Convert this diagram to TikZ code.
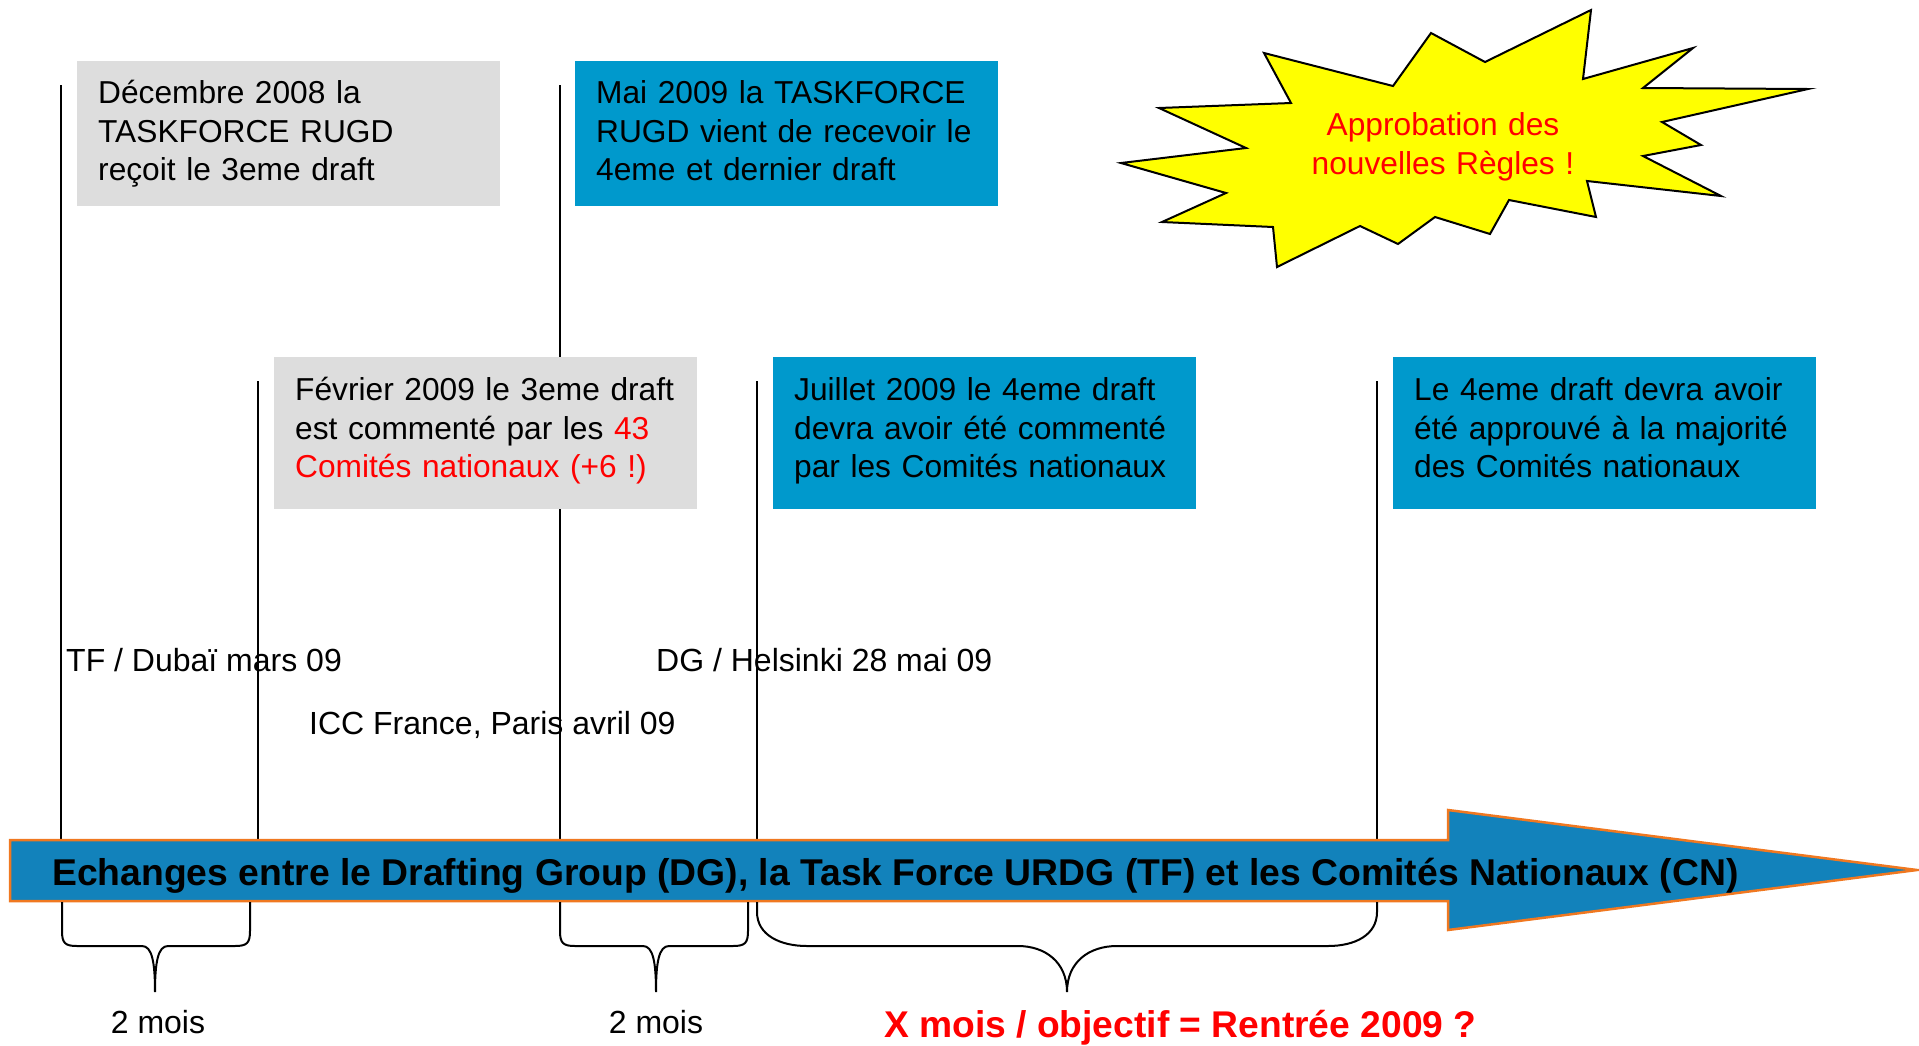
\documentclass[tikz,border=0pt]{standalone}
\usepackage{fontspec}
\setmainfont{Liberation Sans}
\definecolor{boxgray}{RGB}{221,221,221}
\definecolor{boxblue}{RGB}{0,153,204}
\definecolor{arrowblue}{RGB}{18,130,187}
\definecolor{arroworange}{RGB}{240,120,32}
\definecolor{starred}{RGB}{255,0,0}
\definecolor{staryellow}{RGB}{255,255,0}
\begin{document}
\begin{tikzpicture}[x=1pt,y=-1pt,
  upbox/.style={anchor=north west, inner sep=0pt, minimum width=423pt, minimum height=145pt},
  lowbox/.style={anchor=north west, inner sep=0pt, minimum width=423pt, minimum height=152pt},
  btext/.style={anchor=north west, inner sep=0pt, text width=410pt, align=left,
    text height=23pt, font=\fontsize{31.7}{38.8}\selectfont, text=black},
  vline/.style={draw=black, line width=1.6pt},
  brace/.style={draw=black, line width=2pt},
  lbl/.style={anchor=base west, inner sep=0pt, font=\fontsize{32}{38}\selectfont},
]
\useasboundingbox (0,0) rectangle (1919,1045);

% vertical timeline markers
\coordinate (t1) at (61,85);   \coordinate (b1) at (61,842);
\coordinate (t2) at (258,381); \coordinate (b2) at (258,842);
\coordinate (t3) at (560,85);  \coordinate (b3) at (560,842);
\coordinate (t4) at (757,381); \coordinate (b4) at (757,842);
\coordinate (t5) at (1377,381);\coordinate (b5) at (1377,842);
\foreach \i in {1,...,5} {\draw[vline] (t\i) -- (b\i);}

% boxes
\node[upbox, fill=boxgray] (dec) at (77,61) {};
\node[btext] (dect) at (98,80) {Décembre 2008 la\\TASKFORCE RUGD\\reçoit le 3eme draft};
\node[upbox, fill=boxblue] (mai) at (575,61) {};
\node[btext] (mait) at (596,80) {Mai 2009 la TASKFORCE\\RUGD vient de recevoir le\\4eme et dernier draft};
\node[lowbox, fill=boxgray] (fev) at (274,357) {};
\node[btext] (fevt) at (295,377) {Février 2009 le 3eme draft\\est commenté par les \textcolor{starred}{43}\\\textcolor{starred}{Comités nationaux (+6 !)}};
\node[lowbox, fill=boxblue] (jui) at (773,357) {};
\node[btext] (juit) at (794,377) {Juillet 2009 le 4eme draft\\devra avoir été commenté\\par les Comités nationaux};
\node[lowbox, fill=boxblue] (maj) at (1393,357) {};
\node[btext] (majt) at (1414,377) {Le 4eme draft devra avoir\\été approuvé à la majorité\\des Comités nationaux};

% starburst
\draw[fill=staryellow, draw=black, line width=2pt, line join=miter]
  (1591,10) -- (1583,79) -- (1693,48) -- (1643,88) -- (1808,89) -- (1662,122)
  -- (1701,145) -- (1643,156) -- (1721,196) -- (1587,181) -- (1596,217)
  -- (1509,200) -- (1490,234) -- (1435,217) -- (1398,244) -- (1360,226)
  -- (1277,267) -- (1273,227) -- (1162,222) -- (1226,193) -- (1121,163)
  -- (1246,148) -- (1159,108) -- (1291,103) -- (1264,53) -- (1393,86)
  -- (1431,33) -- (1485,62) -- cycle;
\node[anchor=base, inner sep=0pt, text width=320pt, align=center, text=starred,
  font=\fontsize{31.7}{39}\selectfont] (appr) at (1443,135) {Approbation des\\nouvelles Règles !};

% event labels
\node[lbl] (dubai) at (66,671) {TF / Dubaï mars 09};
\node[lbl] (hels) at (656,671) {DG / Helsinki 28 mai 09};
\node[lbl] (icc) at (309,734) {ICC France, Paris avril 09};

% main arrow
\draw[fill=arrowblue, draw=arroworange, line width=2.5pt, line join=miter]
  (10,840) -- (1448,840) -- (1448,810) -- (1917,870) -- (1448,930) -- (1448,901) -- (10,901) -- cycle;
\node[anchor=base west, inner sep=0pt, font=\bfseries\fontsize{37.3}{40}\selectfont] (flow) at (52,885)
  {Echanges entre le Drafting Group (DG), la Task Force URDG (TF) et les Comités Nationaux (CN)};

% braces
\coordinate (br1) at (155,992);
\draw[brace] (62,902) -- (62,931) .. controls (62,943) and (65,946) .. (77,946) -- (142,946)
  .. controls (152,946) and (155,962) .. (br1)
  .. controls (155,962) and (158,946) .. (168,946) -- (235,946)
  .. controls (247,946) and (250,943) .. (250,931) -- (250,902);
\coordinate (br2) at (656,992);
\draw[brace] (560,902) -- (560,931) .. controls (560,943) and (563,946) .. (575,946) -- (643,946)
  .. controls (653,946) and (656,962) .. (br2)
  .. controls (656,962) and (659,946) .. (669,946) -- (733,946)
  .. controls (745,946) and (748,943) .. (748,931) -- (748,902);
\coordinate (br3) at (1067,992);
\draw[brace] (757,902) -- (757,912) .. controls (757,935) and (780,946) .. (807,946) -- (1018,946)
  .. controls (1045,946) and (1067,962) .. (br3)
  .. controls (1067,962) and (1089,946) .. (1117,946) -- (1328,946)
  .. controls (1355,946) and (1377,935) .. (1377,912) -- (1377,902);

% brace labels
\node[anchor=base, inner sep=0pt, font=\fontsize{32}{38}\selectfont] (m1) at (158,1033) {2 mois};
\node[anchor=base, inner sep=0pt, font=\fontsize{32}{38}\selectfont] (m2) at (656,1033) {2 mois};
\node[anchor=base west, inner sep=0pt, text=starred, font=\bfseries\fontsize{37.2}{40}\selectfont] (xm) at (884,1037)
  {X mois / objectif = Rentrée 2009 ?};
\end{tikzpicture}
\end{document}
